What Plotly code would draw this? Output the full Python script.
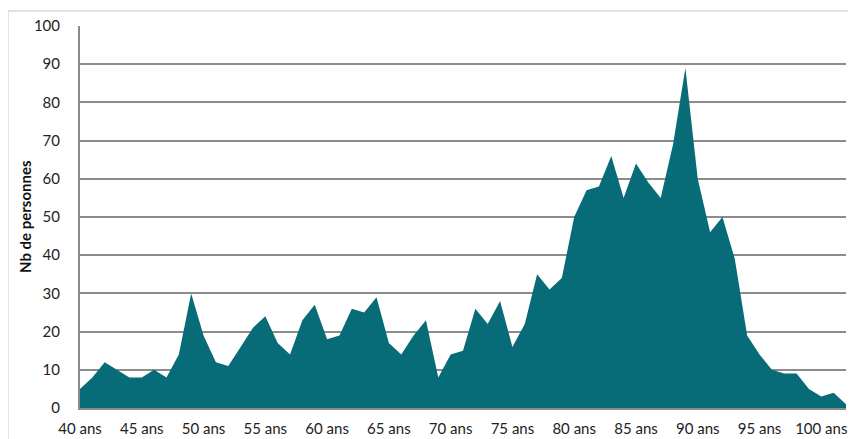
import plotly.graph_objects as go

ages = list(range(40, 103))
counts = [5, 8, 12, 10, 8, 8, 10, 8, 14, 30,
          19, 12, 11, 16, 21, 24, 17, 14, 23, 27,
          18, 19, 26, 25, 29, 17, 14, 19, 23, 8,
          14, 15, 26, 22, 28, 16, 22, 35, 31, 34,
          50, 57, 58, 66, 55, 64, 59, 55, 69, 89,
          60, 46, 50, 39, 19, 14, 10, 9, 9, 5,
          3, 4, 1]
tick_vals = list(range(40, 101, 5))
tick_text = [f"{v} ans" for v in tick_vals]
y_ticks = list(range(0, 101, 10))

FONT = "Lato, Carlito, Calibri, sans-serif"
OFF = 8  # page body margin
W, H = 856 - OFF, 439 - OFF
L, T = 80 - OFF, 26 - OFF
R = W - (846 - OFF)
B = H - (408 - OFF)
pw, ph = W - L - R, H - T - B

fig = go.Figure()
fig.add_trace(go.Scatter(
    x=ages, y=counts, mode="lines", fill="tozeroy",
    line=dict(width=0, color="#076c78"), fillcolor="#076c78",
    hoverinfo="x+y", showlegend=False,
))

fig.update_layout(
    width=W, height=H,
    margin=dict(l=L, r=R, t=T, b=B, autoexpand=False),
    paper_bgcolor="white", plot_bgcolor="white",
    font=dict(family=FONT, size=15, color="#222222"),
    xaxis=dict(
        range=[40, 102], tickvals=tick_vals, ticktext=tick_text,
        showgrid=False, zeroline=False, automargin=False,
        showline=True, linecolor="#8c8c8c", linewidth=2,
        ticks="outside", ticklen=6, tickcolor="rgba(0,0,0,0)",
        tickfont=dict(family=FONT, size=15, color="#222222"),
    ),
    yaxis=dict(
        range=[0, 100], tickvals=y_ticks, automargin=False,
        showgrid=True, gridcolor="#8c8c8c", gridwidth=1.6,
        zeroline=False,
        showline=True, linecolor="#8c8c8c", linewidth=2,
        ticks="outside", ticklen=15, tickcolor="rgba(0,0,0,0)",
        tickfont=dict(family=FONT, size=15, color="#222222"),
    ),
    annotations=[dict(
        text="<b>Nb de personnes</b>", textangle=-90,
        xref="paper", yref="paper",
        x=(25 - 80) / pw, y=0.5, xanchor="center", yanchor="middle",
        showarrow=False, font=dict(family=FONT, size=15, color="#111111"),
    )],
    shapes=[dict(
        type="rect", xref="paper", yref="paper",
        x0=(8 - 80) / pw, x1=(870 - 80) / pw,
        y0=-(460 - 408) / ph, y1=(408 - 11) / ph,
        line=dict(color="#d9d9d9", width=1.5), layer="below",
    )],
)

fig.write_html("out.html")
